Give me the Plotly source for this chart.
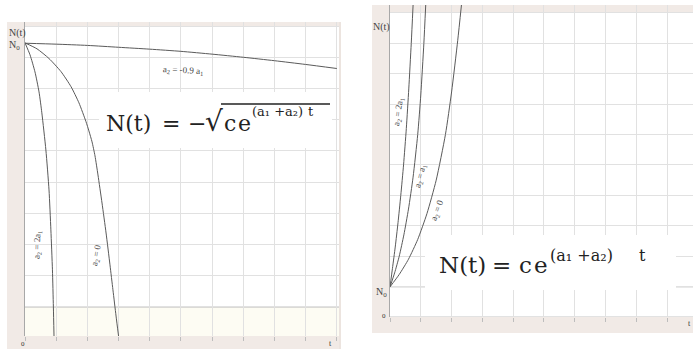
import plotly.graph_objects as go

W, H = 693, 349

# ---------------- data ----------------
# left panel:  N(t) = -sqrt(c e^{(a1+a2)t})
left_t_m09 = [0, 1, 2, 3, 4, 5, 6, 7, 8, 9, 10]
left_n_m09 = [8.45, 8.42, 8.38, 8.32, 8.26, 8.19, 8.10, 8.00, 7.89, 7.77, 7.64]

left_t_zero = [0, 0.385, 0.77, 1.155, 1.475, 1.73, 1.955, 2.05, 2.15, 2.245, 2.34, 2.47, 2.60, 2.725, 2.82, 2.92, 3.0]
left_n_zero = [8.46, 8.27, 7.96, 7.54, 7.06, 6.54, 5.94, 5.64, 5.29, 4.84, 4.23, 3.33, 2.37, 1.35, 0.55, -0.29, -0.93]

left_t_2a1 = [0, 0.16, 0.32, 0.45, 0.54, 0.67, 0.77, 0.83, 0.88, 0.91, 0.93]
left_n_2a1 = [8.46, 8.08, 7.53, 6.89, 6.22, 5.03, 3.75, 2.47, 1.19, 0.0, -0.93]

# right panel:  N(t) = c e^{(a1+a2)t}
right_t_zero = [0, 0.3, 0.6, 0.9, 1.2, 1.5, 1.8, 2.0, 2.2, 2.32]
right_n_zero = [0.99, 1.40, 1.90, 2.55, 3.40, 4.50, 6.00, 7.40, 9.10, 10.26]

right_t_a1 = [0, 0.15, 0.30, 0.45, 0.60, 0.75, 0.90, 1.00, 1.10, 1.16]
right_n_a1 = [0.99, 1.45, 2.00, 2.70, 3.55, 4.60, 6.00, 7.30, 9.00, 10.26]

right_t_2a1 = [0, 0.08, 0.17, 0.26, 0.35, 0.44, 0.53, 0.61, 0.69, 0.75]
right_n_2a1 = [0.99, 1.60, 2.30, 3.10, 4.00, 5.00, 6.20, 7.50, 9.00, 10.26]

N0_right = 0.99

# ---------------- helpers ----------------
def px(x):
    return x / W

def py(y):
    return 1 - y / H

CURVE = "#5a5a5a"
GRID = "#e1e1e1"
BEIGE = "#f1eae6"
SERIF_SMALL = "Liberation Serif"
SERIF = "DejaVu Serif"
INK = "#222222"

fig = go.Figure()

def curve(x, y, xa, ya):
    fig.add_trace(go.Scatter(x=x, y=y, mode="lines", xaxis=xa, yaxis=ya,
                             line=dict(color=CURVE, width=1, shape="spline", smoothing=0.6),
                             hoverinfo="skip", showlegend=False))

curve(left_t_m09, left_n_m09, "x", "y")
curve(left_t_zero, left_n_zero, "x", "y")
curve(left_t_2a1, left_n_2a1, "x", "y")
curve(right_t_zero, right_n_zero, "x2", "y2")
curve(right_t_a1, right_n_a1, "x2", "y2")
curve(right_t_2a1, right_n_2a1, "x2", "y2")

axis_common = dict(showgrid=True, gridcolor=GRID, gridwidth=1, dtick=1, tick0=0,
                   showticklabels=False, zeroline=False, fixedrange=True)

fig.update_layout(
    width=W, height=H, margin=dict(l=0, r=0, t=0, b=0),
    paper_bgcolor="white", plot_bgcolor="white", showlegend=False,
    xaxis=dict(domain=[px(25), px(339)], range=[0, 10.07], anchor="y",
               ticks="outside", ticklen=4, tickcolor="#bdbdbd", **axis_common),
    yaxis=dict(domain=[py(336), py(22)], range=[-0.93, 9.13], anchor="x",
               showline=True, linecolor="#a8a8a8", linewidth=1, **axis_common),
    xaxis2=dict(domain=[px(390), 1.0], range=[0, 9.84], anchor="y2",
                ticks="outside", ticklen=4, tickcolor="#bdbdbd", **axis_common),
    yaxis2=dict(domain=[py(317), py(5)], range=[0, 10.26], anchor="x2",
                showline=True, linecolor="#a8a8a8", linewidth=1, **axis_common),
)

shapes = []
def rect(x0, y0, x1, y1, color, layer="below"):
    shapes.append(dict(type="rect", xref="paper", yref="paper",
                       x0=px(x0), x1=px(x1), y0=py(y1), y1=py(y0),
                       fillcolor=color, line=dict(width=0), layer=layer))

# beige frames of the two screenshots
rect(7, 22, 25, 349, BEIGE)
rect(7, 22, 340, 26, BEIGE)
rect(7, 336, 340, 349, BEIGE)
rect(339, 22, 341, 349, "#ece4df")
rect(372, 5, 390, 333, BEIGE)
rect(372, 5, 693, 13, BEIGE)
rect(372, 317, 693, 333, BEIGE)
# cream strip in the left panel below the dark line
rect(25, 307, 339, 336, "#fdfcf3")

# darker reference lines
shapes.append(dict(type="line", xref="x", yref="y", x0=0, x1=10.07, y0=0, y1=0,
                   line=dict(color="#b5b5b5", width=1), layer="below"))
shapes.append(dict(type="line", xref="x2", yref="y2", x0=0, x1=9.84, y0=N0_right, y1=N0_right,
                   line=dict(color="#c4c4c4", width=1), layer="below"))
shapes.append(dict(type="line", xref="x2", yref="y2", x0=0, x1=9.84, y0=0, y1=0,
                   line=dict(color="#c4c4c4", width=1), layer="below"))

# white formula boxes
rect(99, 92, 332, 148, "white", layer="above")
rect(425, 235, 676, 290, "white", layer="above")
# radical bar of the left formula
shapes.append(dict(type="line", xref="paper", yref="paper", x0=px(221), x1=px(330),
                   y0=py(104), y1=py(104), line=dict(color=INK, width=1.3), layer="above"))

fig.update_layout(shapes=shapes)

ann = []
def text(x, y, s, size, font=SERIF_SMALL, color="#444", angle=0, xanchor="center"):
    ann.append(dict(x=px(x), y=py(y), xref="paper", yref="paper", text=s, showarrow=False,
                    font=dict(family=font, size=size, color=color), textangle=angle,
                    xanchor=xanchor, yanchor="middle", borderpad=0))

# axis labels
text(17, 33, "N(t)", 10)
text(14, 46, "N<sub>0</sub>", 10)
text(23, 344, "0", 7, color="#333")
text(330, 343, "t", 8, color="#333")
text(381, 27, "N(t)", 10)
text(382, 292, "N<sub>0</sub>", 10)
text(384, 316, "0", 7, color="#333")
text(689, 323, "t", 8, color="#333")

# curve labels
text(183, 70, "a<sub>2</sub> = -0.9 a<sub>1</sub>", 9, angle=3)
text(37, 245, "a<sub>2</sub> = 2a<sub>1</sub>", 9, angle=-88)
text(96, 255, "a<sub>2</sub> = 0", 9, angle=-80)
text(398, 112, "a<sub>2</sub> = 2a<sub>1</sub>", 9, angle=-82)
text(420, 176, "a<sub>2</sub> = a<sub>1</sub>", 9, angle=-76)
text(437, 210, "a<sub>2</sub> = 0", 9, angle=-70)

# left formula  N(t) = -sqrt(c e^{(a1+a2)t})
text(105, 124, "N(t)", 22, font=SERIF, color=INK, xanchor="left")
text(161, 124, "=", 22, font=SERIF, color=INK, xanchor="left")
text(187, 124, "−", 22, font=SERIF, color=INK, xanchor="left")
text(204, 122, "√", 28, font=SERIF, color=INK, xanchor="left")
text(223, 124, "c", 22, font=SERIF, color=INK, xanchor="left")
text(237, 124, "e", 22, font=SERIF, color=INK, xanchor="left")
text(251, 111, "(a₁ +a₂)", 13, font=SERIF, color=INK, xanchor="left")
text(307, 111, "t", 13, font=SERIF, color=INK, xanchor="left")

# right formula  N(t) = c e^{(a1+a2)t}
text(438, 265, "N(t)", 23, font=SERIF, color=INK, xanchor="left")
text(491, 265, "=", 23, font=SERIF, color=INK, xanchor="left")
text(518, 265, "c", 23, font=SERIF, color=INK, xanchor="left")
text(533, 265, "e", 23, font=SERIF, color=INK, xanchor="left")
text(549, 255, "(a₁ +a₂)", 16, font=SERIF, color=INK, xanchor="left")
text(638, 255, "t", 16, font=SERIF, color=INK, xanchor="left")

fig.update_layout(annotations=ann)

fig.write_html("out.html", config={"displayModeBar": False},
               post_script="document.body.style.margin='0';")
